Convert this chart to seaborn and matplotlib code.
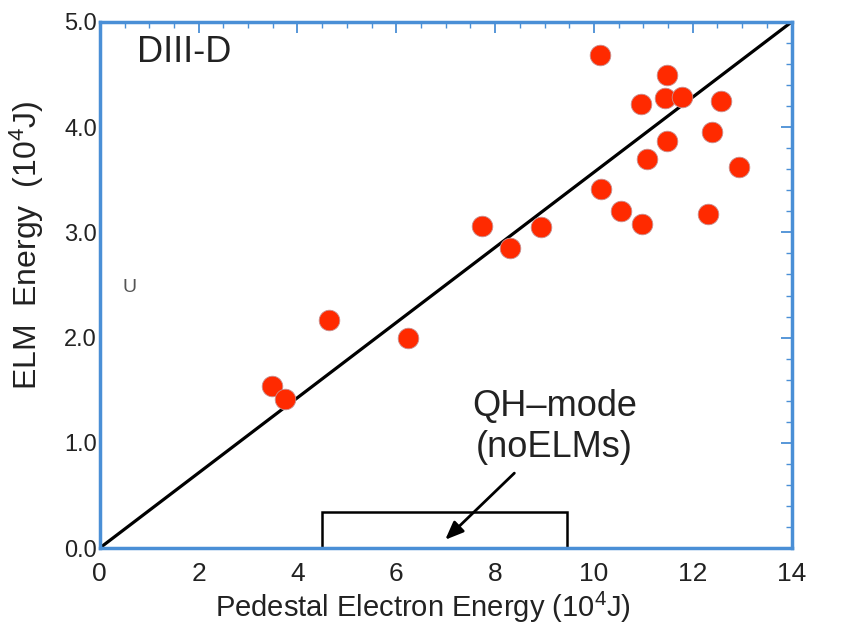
import matplotlib
matplotlib.use("Agg")
import matplotlib.pyplot as plt
import seaborn as sns
import pandas as pd
from matplotlib.patches import Rectangle
from matplotlib.ticker import MultipleLocator

# ELM energy vs pedestal electron energy (units of 10^4 J)
ped_energy = [3.48, 3.74, 4.63, 6.24, 7.74, 8.31, 8.92, 10.13, 10.15, 10.55, 10.97,
              10.96, 11.07, 11.47, 11.43, 11.47, 11.79, 12.30, 12.38, 12.58, 12.93]
elm_energy = [1.54, 1.42, 2.17, 2.00, 3.06, 2.85, 3.05, 4.69, 3.41, 3.20, 3.08,
              4.22, 3.70, 4.50, 4.28, 3.87, 4.29, 3.17, 3.95, 4.25, 3.62]

# reference line and QH-mode box
line_x = [0, 14]
line_y = [0, 5]
qh_x = [4.5, 9.45]
qh_top = 0.34

x_ticks = [0, 2, 4, 6, 8, 10, 12, 14]
y_ticks = [0.0, 1.0, 2.0, 3.0, 4.0, 5.0]

df = pd.DataFrame({"ped": ped_energy, "elm": elm_energy})
line_df = pd.DataFrame({"x": line_x, "y": line_y})

sns.set_style("white")
plt.rcParams["font.family"] = ["Liberation Sans", "DejaVu Sans"]
plt.rcParams["mathtext.default"] = "regular"
blue = "#4a8fd6"
txt = "#222222"

fig = plt.figure(figsize=(8.53, 6.26), dpi=100)
ax = fig.add_axes([0.117, 0.1246, 0.811, 0.8403])

sns.lineplot(data=line_df, x="x", y="y", color="black", linewidth=2.3, ax=ax)
sns.scatterplot(data=df, x="ped", y="elm", s=220, color="#ff2a00",
                edgecolor="#c89090", linewidth=0.6, ax=ax, zorder=3)

ax.add_patch(Rectangle((qh_x[0], 0), qh_x[1] - qh_x[0], qh_top,
                       fill=False, edgecolor="black", linewidth=1.8, zorder=2))
ax.annotate("", xy=(6.95, 0.06), xytext=(8.43, 0.73),
            arrowprops=dict(arrowstyle="-|>,head_length=1.1,head_width=0.45",
                            color="black", lw=2.0))
ax.text(9.2, 1.15, "QH\u2013mode\n(noELMs)", ha="center", va="center",
        fontsize=26, linespacing=1.25, color=txt)
ax.text(1.7, 4.71, "DIII-D", ha="center", va="center", fontsize=26, color=txt)
ax.text(0.61, 2.48, "U", ha="center", va="center", fontsize=14, color="#555555")

ax.set_xlim(0, 14)
ax.set_ylim(0, 5)
ax.set_xticks(x_ticks)
ax.set_xticklabels([str(t) for t in x_ticks], fontsize=19, color=txt)
ax.set_yticks(y_ticks)
ax.set_yticklabels([f"{t:.1f}" for t in y_ticks], fontsize=17, color=txt)
ax.xaxis.set_minor_locator(MultipleLocator(0.5))
ax.yaxis.set_minor_locator(MultipleLocator(0.2))
ax.tick_params(which="both", direction="in", top=True, right=True, color=blue)
ax.tick_params(which="major", length=8, width=1.3)
ax.tick_params(which="minor", length=4, width=1.0)
ax.tick_params(axis="x", which="major", pad=10)
ax.tick_params(axis="y", which="major", pad=2)

for sp in ax.spines.values():
    sp.set_color(blue)
    sp.set_linewidth(2.5)

ax.set_xlabel("Pedestal Electron Energy (10$^4$J)", fontsize=21, color=txt)
ax.set_ylabel("ELM  Energy  (10$^4$J)", fontsize=23, color=txt)
ax.xaxis.set_label_coords(0.467, -0.08)
ax.yaxis.set_label_coords(-0.078, 0.576)

fig.savefig("out.png", dpi=100)
